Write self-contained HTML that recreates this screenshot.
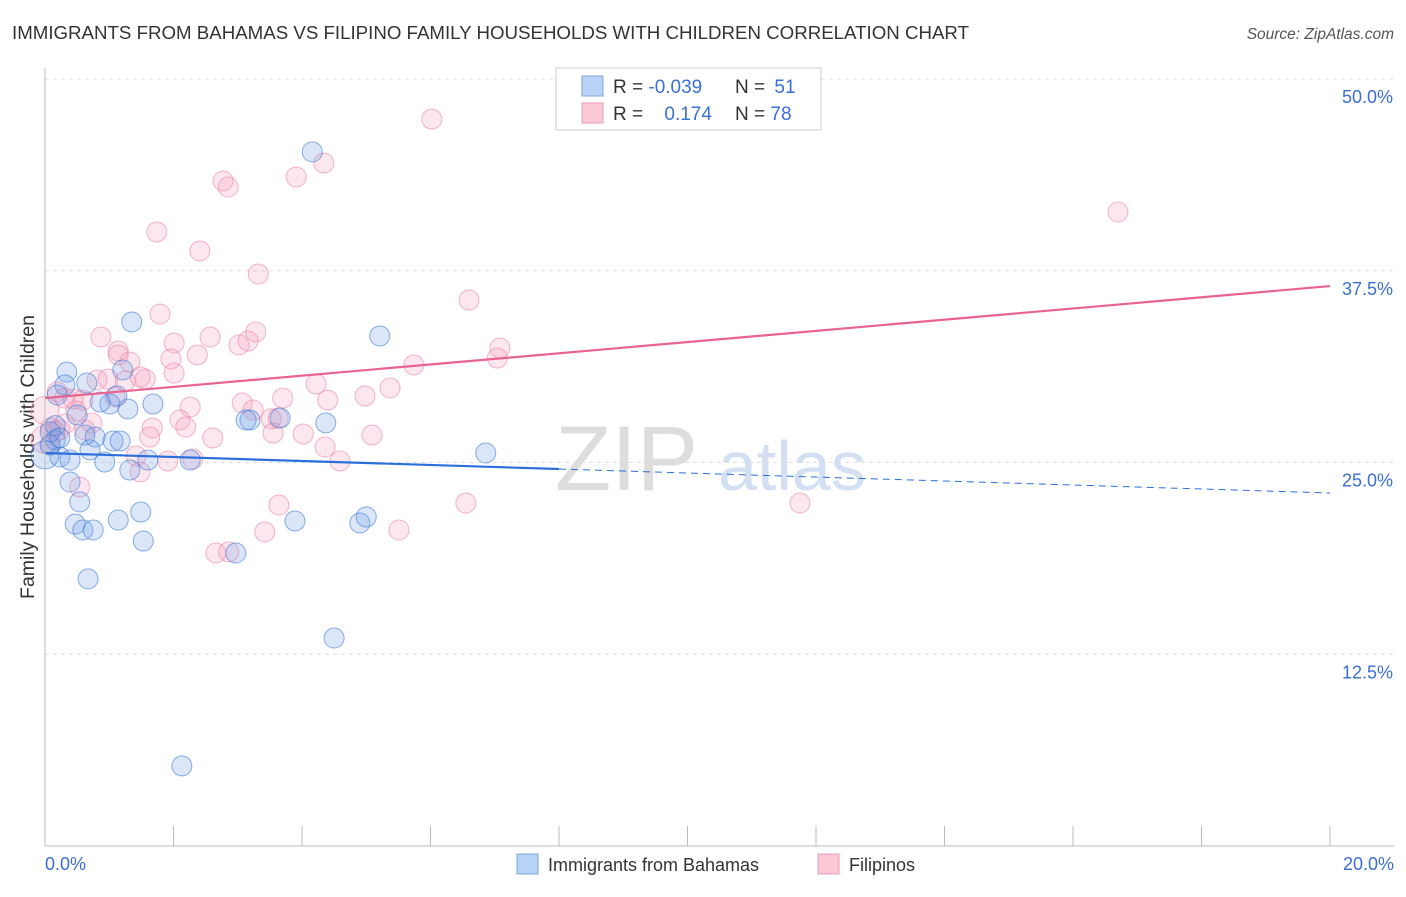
<!DOCTYPE html>
<html><head><meta charset="utf-8"><style>
body{margin:0;background:#fff;font-family:"Liberation Sans",sans-serif;}
svg text{font-family:"Liberation Sans",sans-serif;}
</style></head><body>
<svg id="c" width="1406" height="892" xmlns="http://www.w3.org/2000/svg">
<text x="12" y="39" font-size="18.7" fill="#333">IMMIGRANTS FROM BAHAMAS VS FILIPINO FAMILY HOUSEHOLDS WITH CHILDREN CORRELATION CHART</text>
<text x="1394" y="39" font-size="15.5" fill="#555" font-style="italic" text-anchor="end">Source: ZipAtlas.com</text>
<text transform="translate(34,457) rotate(-90)" font-size="19.5" fill="#333" text-anchor="middle">Family Households with Children</text>
<g><text x="555" y="490" font-size="92" fill="#ddd" font-family="Liberation Serif">ZIP</text><text x="718" y="490" font-size="70" fill="#d3e0f3">atlas</text></g>
<g id="grid"></g><g id="pts"></g><g id="lines"></g>
<line x1="45" y1="68" x2="45" y2="846" stroke="#bbb"/>
<line x1="45" y1="846" x2="1394" y2="846" stroke="#bbb"/>
<text x="45" y="870" font-size="18" fill="#3b6fd4">0.0%</text>
<text x="1394" y="870" font-size="18" fill="#3b6fd4" text-anchor="end">20.0%</text>
<g>
<rect x="556" y="68" width="265" height="62" fill="#fff" stroke="#ccc"/>
<rect x="582" y="76" width="21" height="20" fill="#b9d2f5" stroke="#7ea6e0"/>
<rect x="582" y="103" width="21" height="20" fill="#fbc8d6" stroke="#ef9ab6"/>
<text x="613" y="93" font-size="19" fill="#333">R = <tspan fill="#3b6fd4">-0.039</tspan></text>
<text x="735" y="93" font-size="19" fill="#333">N = <tspan fill="#3b6fd4" dx="4">51</tspan></text>
<text x="613" y="120" font-size="19" fill="#333">R = <tspan fill="#3b6fd4" dx="16">0.174</tspan></text>
<text x="735" y="120" font-size="19" fill="#333">N = <tspan fill="#3b6fd4">78</tspan></text>
</g>
<g>
<rect x="517" y="854" width="21" height="20" fill="#b9d2f5" stroke="#7ea6e0"/>
<text x="548" y="871" font-size="18" fill="#333">Immigrants from Bahamas</text>
<rect x="818" y="854" width="21" height="20" fill="#fbc8d6" stroke="#ef9ab6"/>
<text x="849" y="871" font-size="18" fill="#333">Filipinos</text>
</g>
</svg>
<script>
const yTicks=[12.5,25,37.5,50];
const yTickLabels=["12.5%","25.0%","37.5%","50.0%"];
const xTicks=[0,2,4,6,8,10,12,14,16,18,20];
const blueX=[4.16,1.35,5.21,0.34,1.21,0.31,0.65,0.19,1.68,1.01,1.29,0.86,1.12,0.50,3.19,3.66,4.37,3.13,0.78,0.62,1.06,1.17,0.16,0.08,0.23,0.39,0.70,0.93,1.32,1.60,2.26,6.86,0.39,0.54,0.47,1.14,1.49,0.59,0.75,3.89,4.90,5.00,1.53,2.97,0.67,4.50,2.13,0.08,0.0,0.16,0.23];
const blueY=[45.25,34.16,33.25,30.90,31.03,30.05,30.18,29.40,28.81,28.81,28.49,28.94,29.34,28.10,27.77,27.90,27.58,27.77,26.66,26.79,26.40,26.40,26.47,26.14,25.36,25.16,25.82,25.03,24.51,25.16,25.16,25.62,23.73,22.43,20.99,21.25,21.77,20.60,20.60,21.19,21.06,21.45,19.88,19.10,17.41,13.56,5.22,27.0,25.5,27.4,26.6];
const pinkX=[6.02,4.34,3.91,2.77,2.85,16.70,1.74,2.41,3.32,6.60,1.79,3.28,0.87,2.57,2.01,3.02,3.16,1.14,1.14,2.37,1.96,7.08,7.04,5.74,1.32,2.01,1.56,0.81,0.98,1.25,1.48,4.22,5.37,4.98,0.19,0.31,0.44,1.09,0.59,3.70,4.40,3.07,2.26,0.48,3.24,0.31,0.73,2.10,2.19,1.67,1.63,3.52,3.63,0.09,0.23,2.61,3.55,4.02,5.09,4.36,4.59,1.91,1.42,2.30,1.48,0.54,3.64,6.55,11.75,3.42,5.51,2.66,2.86,0.08,0.16,0.62,0.0,0.0];
const pinkY=[47.39,44.52,43.61,43.35,42.96,41.33,40.03,38.79,37.29,35.59,34.68,33.51,33.18,33.18,32.79,32.66,32.92,32.27,32.01,32.01,31.75,32.46,31.81,31.36,31.55,30.83,30.44,30.38,30.44,30.31,30.57,30.12,29.86,29.34,29.60,29.20,29.14,29.27,29.07,29.20,29.07,28.88,28.62,28.36,28.42,27.51,27.57,27.77,27.31,27.25,26.66,27.84,27.90,27.25,27.12,26.60,26.92,26.86,26.79,26.01,25.10,25.10,25.42,25.23,24.38,23.40,22.23,22.36,22.36,20.47,20.60,19.10,19.17,26.14,26.99,27.12,28.4,26.5];
const blueTrend=[25.62,23.01];
const pinkTrend=[29.2,36.5];
const NS="http://www.w3.org/2000/svg";
function sx(v){return 45+v/20*1285;}
function sy(v){return 846-v/50*767;}
function mk(t,a,p){const e=document.createElementNS(NS,t);for(const k in a)e.setAttribute(k,a[k]);p.appendChild(e);return e;}
const grid=document.getElementById('grid');
yTicks.forEach((t,i)=>{
  const l=mk('line',{x1:45,x2:1394,y1:sy(t),y2:sy(t),stroke:'#ddd','stroke-dasharray':'4,4'},grid);
  
  
  const tx=mk('text',{x:1393,y:sy(t)+24,'font-size':18,fill:'#3b6fd4','text-anchor':'end'},grid);
  tx.textContent=yTickLabels[i];
  
  
});
xTicks.forEach(t=>{
  const l=mk('line',{x1:sx(t),x2:sx(t),y1:826,y2:846,stroke:'#bbb'},grid);
  
  
});
const pts=document.getElementById('pts');
function series(X,Y,fill,stroke,name){
  X.forEach((x,i)=>{
    const r=(x===0)?14:10;
    const c=mk('circle',{cx:sx(x),cy:sy(Y[i]),r:r,fill:fill,stroke:stroke,'stroke-width':1},pts);
    
    
  });
}
series(pinkX,pinkY,'rgba(244,160,188,0.25)','rgba(236,130,165,0.6)','filipinos-point');
series(blueX,blueY,'rgba(110,160,232,0.25)','rgba(60,120,215,0.6)','bahamas-point');
const lines=document.getElementById('lines');
const bAt=x=>blueTrend[0]+(blueTrend[1]-blueTrend[0])*x/20;
let l1=mk('line',{x1:sx(0),y1:sy(bAt(0)),x2:sx(8),y2:sy(bAt(8)),stroke:'#2a6fdb','stroke-width':2.2},lines);


let l2=mk('line',{x1:sx(8),y1:sy(bAt(8)),x2:sx(20),y2:sy(bAt(20)),stroke:'#2a6fdb','stroke-width':1,'stroke-dasharray':'7,5'},lines);


let l3=mk('line',{x1:sx(0),y1:sy(pinkTrend[0]),x2:sx(20),y2:sy(pinkTrend[1]),stroke:'#e8648f','stroke-width':2.2},lines);


</script>
</body></html>
